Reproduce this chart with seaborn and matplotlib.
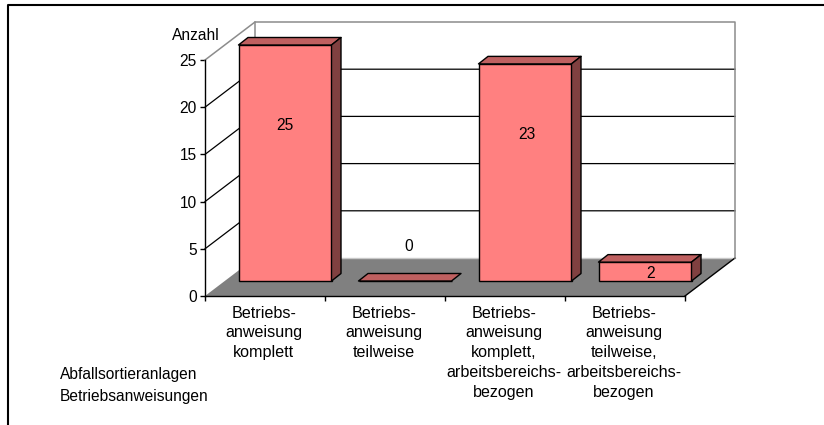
import matplotlib.pyplot as plt
from matplotlib.lines import Line2D
from matplotlib.patches import Polygon
import pandas as pd
import seaborn as sns

categories = ['Betriebs-\nanweisung\nkomplett',
              'Betriebs-\nanweisung\nteilweise',
              'Betriebs-\nanweisung\nkomplett,\narbeitsbereichs-\nbezogen',
              'Betriebs-\nanweisung\nteilweise,\narbeitsbereichs-\nbezogen']
values = [25, 0, 23, 2]
# where the value labels sit, in y axis units
label_y = [18.1, 5.2, 17.1, 2.4]
label_dx = [0, 0.03, 0.015, 0.05]
yticks = [0, 5, 10, 15, 20, 25]

W, H = 824, 425
FS = 11.2
plt.rcParams['font.family'] = ['Liberation Sans', 'DejaVu Sans']

fig = plt.figure(figsize=(W / 100, H / 100), dpi=100)
ax = fig.add_axes([205 / W, (H - 296) / H, 480 / W, 236 / H])

df = pd.DataFrame({'cat': categories, 'val': values})
sns.barplot(data=df, x='cat', y='val', color='#FF8080', saturation=1, width=93 / 120,
            edgecolor='black', linewidth=1.0, ax=ax, zorder=5)
ax.set_xlim(-0.5, 3.5)
ax.set_ylim(0, 25)

# one pixel in data units
px = 1 / 120
py = 25 / 236
wall_dx, wall_dy = 50 * px, 38 * py
bar_dx, bar_dy = 20 * px, 15 * py
depth_x, depth_y = 9.5 * px, 7.5 * py


def poly(pts, color, edge='none', lw=1.0, z=1):
    ax.add_patch(Polygon(pts, closed=True, facecolor=color, edgecolor=edge,
                         linewidth=lw, zorder=z, clip_on=False, joinstyle='round'))


# floor
poly([(-0.5, 0), (3.5, 0), (3.5 + wall_dx, wall_dy), (-0.5 + wall_dx, wall_dy)], '#808080', z=1)
ax.plot([-0.5 + wall_dx, 3.5 + wall_dx], [wall_dy, wall_dy], color='#c8c8c8', lw=1.0,
        clip_on=False, zorder=1)
ax.plot([3.5, 3.5 + wall_dx], [0, wall_dy], color='black', lw=1.0, clip_on=False, zorder=2)

# grid on side and back wall
for t in yticks[1:-1]:
    ax.plot([-0.5, -0.5 + wall_dx, 3.5 + wall_dx], [t, t + wall_dy, t + wall_dy],
            color='black', lw=0.9, clip_on=False, zorder=2)

# wall outline
top = 25
ax.plot([-0.5, -0.5 + wall_dx, 3.5 + wall_dx, 3.5 + wall_dx],
        [top, top + wall_dy, top + wall_dy, wall_dy],
        color='#8c8c8c', lw=1.1, clip_on=False, zorder=2)
ax.plot([-0.5 + wall_dx, -0.5 + wall_dx], [wall_dy, top + wall_dy],
        color='#8c8c8c', lw=1.1, clip_on=False, zorder=2)

# move bars back on the floor, add top and side faces
for i, bar in enumerate(ax.patches[:len(values)]):
    bar.set_x(bar.get_x() + bar_dx)
    bar.set_y(bar_dy)
    bar.set_clip_on(False)
    x0 = bar.get_x()
    x1 = x0 + bar.get_width()
    y0 = bar_dy
    y1 = y0 + bar.get_height()
    poly([(x0, y1), (x1, y1), (x1 + depth_x, y1 + depth_y), (x0 + depth_x, y1 + depth_y)],
         '#BF6060', 'black', 1.0, 6)
    if bar.get_height() > 0:
        poly([(x1, y0), (x1 + depth_x, y0 + depth_y), (x1 + depth_x, y1 + depth_y), (x1, y1)],
             '#804040', 'black', 1.0, 6)
    ax.text(i + bar_dx + label_dx[i], label_y[i], str(values[i]), ha='center', va='center',
            fontsize=FS, color='black', zorder=8)

# axes
sns.despine(ax=ax, top=True, right=True)
for s in ['left', 'bottom']:
    ax.spines[s].set_linewidth(1.0)
    ax.spines[s].set_zorder(7)
ax.set_yticks(yticks)
ax.set_xticks([-0.5, 0.5, 1.5, 2.5, 3.5])
ax.set_xticklabels([])
ax.tick_params(axis='both', length=3.6, width=1.0, labelsize=FS, pad=2.5)
ax.set_xlabel('')
ax.set_ylabel('')
ax.patch.set_alpha(0)

for i, c in enumerate(categories):
    ax.annotate(c, xy=(i, 0), xytext=(-1.0, -9.5 / 100 * 72), textcoords='offset points',
                ha='center', va='top', fontsize=11.6, linespacing=1.4, annotation_clip=False)

fig.text(172 / W, 1 - 35 / H, 'Anzahl', fontsize=FS, ha='left', va='center')
fig.text(60 / W, 1 - 375 / H, 'Abfallsortieranlagen', fontsize=FS, ha='left', va='center')
fig.text(60 / W, 1 - 396 / H, 'Betriebsanweisungen', fontsize=FS, ha='left', va='center')

# outer frame, only top and left show
fig.add_artist(Line2D([8 / W, 8 / W, 1], [0, 1 - 5 / H, 1 - 5 / H], color='black', lw=1.5))

fig.savefig('out.png', dpi=100)
